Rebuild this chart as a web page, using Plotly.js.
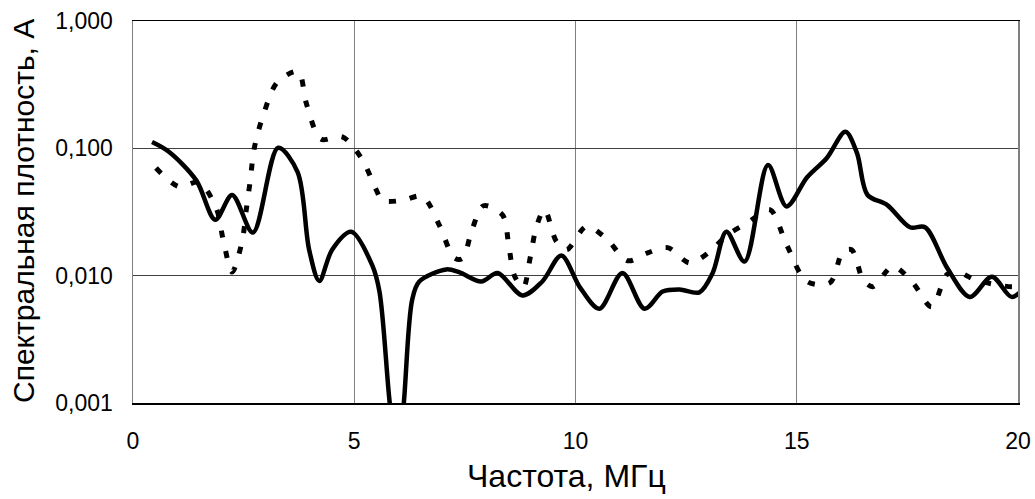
<!DOCTYPE html>
<html>
<head>
<meta charset="utf-8">
<script src="https://cdn.plot.ly/plotly-3.0.1.min.js"></script>
<style>html,body{margin:0;padding:0;background:#fff;}#chart{width:1035px;height:499px;}</style>
</head>
<body>
<div id="chart"></div>
<script>
// Solid curve
const freqSolid = [0.43,0.81,1.43,1.86,2.24,2.71,3.28,3.72,3.98,4.21,4.5,4.93,5.41,5.57,5.79,5.97,6.12,6.31,6.47,7.08,7.38,7.87,8.24,8.8,9.25,9.68,10.1,10.54,11.06,11.56,11.97,12.35,12.8,13.1,13.41,13.82,14.35,14.77,15.23,15.68,16.1,16.36,16.6,17.04,17.56,17.9,18.4,18.91,19.41,19.86,20.2];
const valsSolid = [0.112,0.094,0.056,0.0275,0.043,0.0218,0.101,0.065,0.016,0.0091,0.016,0.0221,0.012,0.0075,0.0011,0.0003,0.0010,0.0065,0.0090,0.0112,0.0106,0.0090,0.0105,0.0070,0.0090,0.0144,0.0081,0.0055,0.0105,0.0055,0.0075,0.0078,0.0074,0.0105,0.0221,0.0129,0.074,0.035,0.059,0.084,0.135,0.092,0.043,0.036,0.024,0.024,0.0115,0.0068,0.0098,0.0068,0.0085];
// Dashed curve
const freqDash = [0.52,1.04,1.49,1.88,2.04,2.24,2.47,2.56,2.65,2.74,2.96,3.26,3.73,3.91,4.16,4.28,4.73,5.16,5.5,5.63,6.09,6.54,6.92,7.26,7.44,7.67,7.92,8.35,8.49,8.62,8.82,8.98,9.12,9.3,9.57,9.8,10.25,10.7,11.18,11.63,12.08,12.58,13.03,13.44,13.89,14.39,14.77,15.23,15.75,16.04,16.24,16.5,16.72,17.17,17.62,18.05,18.39,18.62,19.03,19.9,20.2];
const valsDash = [0.070,0.050,0.054,0.034,0.019,0.0107,0.019,0.033,0.056,0.10,0.19,0.33,0.40,0.23,0.128,0.117,0.123,0.084,0.047,0.039,0.039,0.042,0.025,0.0138,0.0136,0.0234,0.0354,0.030,0.0175,0.010,0.0081,0.0141,0.0244,0.033,0.0185,0.016,0.0244,0.0195,0.0131,0.0151,0.0166,0.0126,0.0154,0.021,0.026,0.033,0.0175,0.0090,0.0088,0.0154,0.016,0.0093,0.0082,0.0118,0.0088,0.0057,0.0102,0.0108,0.0093,0.0082,0.0088];
// Ticks
const xTicks = [0,5,10,15,20];
const yTickVals = [0.001,0.01,0.1,1];
const yTickText = ['0,001','0,010','0,100','1,000'];
const xTitle = 'Частота, МГц';
const yTitle = 'Спектральная плотность, А';

const font = 'Liberation Sans, Arial, sans-serif';
const traces = [
  {x: freqDash, y: valsDash, mode:'lines', line:{color:'#000', width:5, dash:'7px,14px', shape:'spline', smoothing:0.9}, hoverinfo:'skip'},
  {x: freqSolid, y: valsSolid, mode:'lines', line:{color:'#000', width:4.5, shape:'spline', smoothing:0.9}, hoverinfo:'skip'}
];
const layout = {
  width:1035, height:499,
  margin:{l:133, r:17, t:21, b:96},
  paper_bgcolor:'#fff', plot_bgcolor:'#fff',
  showlegend:false,
  font:{family:font, color:'#000', size:23},
  xaxis:{range:[0,20], tickmode:'array', tickvals:xTicks, ticktext:xTicks.map(String),
    showgrid:true, gridcolor:'#808080', gridwidth:1, zeroline:false,
    showline:true, linecolor:'#000', linewidth:1.5, mirror:true, ticks:'', ticklabelstandoff:17,
    tickfont:{size:23, family:font}},
  yaxis:{type:'log', range:[-3,0], tickmode:'array', tickvals:yTickVals, ticktext:yTickText,
    showgrid:true, gridcolor:'#404040', gridwidth:1, zeroline:false,
    showline:true, linecolor:'#808080', linewidth:1.5, mirror:true, ticks:'', ticklabelstandoff:14,
    tickfont:{size:23, family:font}},
  annotations:[
    {text:xTitle, xref:'paper', yref:'paper', x:(566-133)/885, y:(403-476)/382, xanchor:'center', yanchor:'middle', showarrow:false, font:{size:32, family:font}},
    {text:yTitle, xref:'paper', yref:'paper', x:(23-133)/885, y:(403-211)/382, xanchor:'center', yanchor:'middle', textangle:-90, showarrow:false, font:{size:30, family:font}}
  ]
};
Plotly.newPlot('chart', traces, layout, {staticPlot:true, displayModeBar:false});
</script>
</body>
</html>
